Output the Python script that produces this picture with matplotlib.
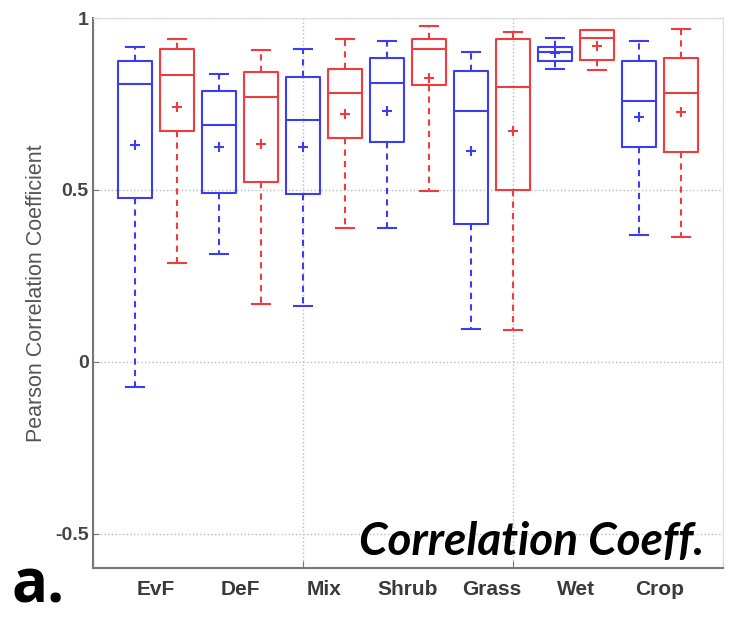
import numpy as np
import matplotlib
matplotlib.use("Agg")
from matplotlib import pyplot as plt

categories = ["EvF", "DeF", "Mix", "Shrub", "Grass", "Wet", "Crop"]

# blue series (first box of each pair)
blue_lo = [-0.072, 0.314, 0.163, 0.388, 0.096, 0.853, 0.368]
blue_q1 = [0.477, 0.492, 0.488, 0.640, 0.400, 0.874, 0.624]
blue_med = [0.808, 0.688, 0.702, 0.811, 0.730, 0.900, 0.759]
blue_q3 = [0.875, 0.789, 0.829, 0.885, 0.846, 0.915, 0.875]
blue_hi = [0.917, 0.838, 0.910, 0.934, 0.901, 0.942, 0.932]
blue_mean = [0.631, 0.624, 0.626, 0.730, 0.614, 0.898, 0.712]

# red series (second box of each pair)
red_lo = [0.288, 0.169, 0.388, 0.498, 0.091, 0.848, 0.364]
red_q1 = [0.671, 0.523, 0.650, 0.806, 0.501, 0.878, 0.611]
red_med = [0.833, 0.769, 0.782, 0.910, 0.798, 0.942, 0.783]
red_q3 = [0.910, 0.843, 0.853, 0.939, 0.940, 0.964, 0.885]
red_hi = [0.939, 0.906, 0.940, 0.977, 0.960, 0.964, 0.969]
red_mean = [0.741, 0.633, 0.722, 0.825, 0.671, 0.919, 0.728]

BLUE = "#3c3cf0"
RED = "#f03c3c"


def make_stats(lo, q1, med, q3, hi, mean):
    out = []
    for i in range(len(lo)):
        out.append(dict(whislo=lo[i], q1=q1[i], med=med[i], q3=q3[i],
                        whishi=hi[i], mean=mean[i], fliers=[]))
    return out


def draw(ax, stats, pos, col):
    ax.bxp(stats, positions=pos, widths=0.82, capwidths=0.42,
           showmeans=True, showfliers=False, manage_ticks=False,
           boxprops=dict(color=col, lw=1.5),
           medianprops=dict(color=col, lw=1.5),
           whiskerprops=dict(color=col, lw=1.5, ls=(0, (3, 2.5))),
           capprops=dict(color=col, lw=1.5),
           meanprops=dict(marker="+", markeredgecolor=col, markersize=7,
                          markeredgewidth=1.5))


fig = plt.figure(figsize=(7.3, 6.2), dpi=100)
ax = fig.add_axes([0.1274, 0.0839, 0.863, 0.887])

n = len(categories)
pos_blue = np.arange(n) * 2 + 1
pos_red = np.arange(n) * 2 + 2

draw(ax, make_stats(blue_lo, blue_q1, blue_med, blue_q3, blue_hi, blue_mean), pos_blue, BLUE)
draw(ax, make_stats(red_lo, red_q1, red_med, red_q3, red_hi, red_mean), pos_red, RED)

ax.set_xlim(0, 15)
ax.set_ylim(-0.6, 1.0)

ax.set_xticks([0, 5, 10, 15])
ax.set_xticklabels([])
ax.set_xticks(pos_blue + 0.5, minor=True)
ax.set_xticklabels(categories, minor=True, fontsize=15, fontweight="bold",
                   color="#3a3a3a", family="Liberation Sans")
ax.tick_params(axis="x", which="minor", length=0, pad=9)
ax.tick_params(axis="x", which="major", length=5, direction="in", color="#777777")

ax.set_yticks([-0.5, 0, 0.5, 1])
ax.set_yticklabels(["-0.5", "0", "0.5", "1"], fontsize=14, fontweight="bold",
                   color="#444444", family="Liberation Sans")
ax.tick_params(axis="y", length=4, direction="in", color="#777777", pad=3)

ax.grid(True, which="major", ls=":", color="#bbbbbb", lw=1)
ax.set_axisbelow(True)
for s in ["left", "bottom"]:
    ax.spines[s].set_color("#777777")
    ax.spines[s].set_linewidth(1.5)
for s in ["top", "right"]:
    ax.spines[s].set_color("#dddddd")

ax.set_ylabel("Pearson Correlation Coefficient", fontsize=15.5, color="#555555",
              family="Liberation Sans", labelpad=6)

ax.text(0.970, 0.024, "Correlation Coeff.", transform=ax.transAxes,
        ha="right", va="baseline", fontsize=33, fontweight="bold", style="italic",
        family="Lato", color="black")
fig.text(0.016, 0.004, "a.", fontsize=43, fontweight="bold", family="Open Sans",
         ha="left", va="bottom")

fig.savefig("out.png", dpi=100)
